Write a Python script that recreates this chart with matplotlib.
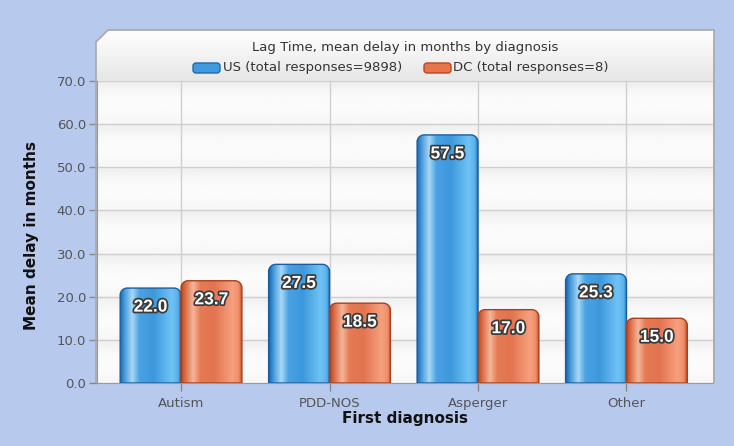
import numpy as np
import matplotlib
matplotlib.use("Agg")
import matplotlib.pyplot as plt
from matplotlib.path import Path
from matplotlib.patches import PathPatch, Polygon, FancyBboxPatch
import matplotlib.patheffects as pe
from matplotlib.colors import LinearSegmentedColormap

# ---------------- data ----------------
categories = ["Autism", "PDD-NOS", "Asperger", "Other"]
us_values = [22.0, 27.5, 57.5, 25.3]
dc_values = [23.7, 18.5, 17.0, 15.0]
series_names = ["US (total responses=9898)", "DC (total responses=8)"]
chart_title = "Lag Time, mean delay in months by diagnosis"
x_label = "First diagnosis"
y_label = "Mean delay in months"
y_ticks = [0, 10, 20, 30, 40, 50, 60, 70]

# ---------------- layout helpers ----------------
W, H = 734, 446
fig = plt.figure(figsize=(W / 100, H / 100), dpi=100)
fig.patch.set_facecolor("#b8c9ee")


def fx(px):
    return px / W


def fy(py):
    return 1 - py / H


L, R, T, B = 97, 713, 81, 383
PT, PL, PR = 30, 96, 714

# header area (title + legend)
hax = fig.add_axes([fx(PL), fy(T), fx(PR) - fx(PL), fy(PT) - fy(T)], zorder=-1)
hw, hh = PR - PL, T - PT
hax.set_xlim(0, hw)
hax.set_ylim(hh, 0)
hax.axis("off")
grad = np.linspace(1.0, 0.90, 64)[:, None]
hdr_cmap = LinearSegmentedColormap.from_list("hdr", ["#e6e6e6", "#ffffff"])
clip_poly = Polygon([(0, hh), (0, 12), (12, 0), (hw, 0), (hw, hh)], closed=True,
                    transform=hax.transData, facecolor="none", edgecolor="none")
hax.add_patch(clip_poly)
im = hax.imshow(grad, extent=(0, hw, hh, 0), aspect="auto", cmap=hdr_cmap,
                vmin=0.9, vmax=1.0)
im.set_clip_path(clip_poly)

hax.text(309, 17, chart_title, ha="center", va="center", fontsize=9.5,
         color="#333333", family="DejaVu Sans")

sw_cols = [("#3f9be0", "#1f69b0"), ("#e8744c", "#b8481f")]
sw_x = [97, 328]
txt_x = [127, 357]
for i, name in enumerate(series_names):
    fc, ec = sw_cols[i]
    sw = FancyBboxPatch((sw_x[i], 33), 27, 10,
                        boxstyle="round,pad=0,rounding_size=3",
                        facecolor=fc, edgecolor=ec, linewidth=1)
    hax.add_patch(sw)
    hax.text(txt_x[i], 37.5, name, ha="left", va="center", fontsize=9.5,
             color="#333333", family="DejaVu Sans")

# main plot area
ax = fig.add_axes([fx(L), fy(B), fx(R) - fx(L), fy(T) - fy(B)])
x = np.arange(len(categories))
ax.set_xlim(-0.566, 3.583)
ax.set_ylim(0, 70)

# band background
rows = np.linspace(0, 70, 700)
phase = (rows % 10) / 10.0
band = 0.985 - 0.045 * np.exp(-((1 - phase) / 0.25) ** 2) - 0.02 * np.exp(-(phase / 0.2) ** 2)
bg_cmap = LinearSegmentedColormap.from_list("bg", ["#000000", "#ffffff"])
ax.imshow(band[:, None], extent=(-0.566, 3.583, 0, 70), origin="lower",
          aspect="auto", cmap=bg_cmap, vmin=0, vmax=1, zorder=0)

ax.set_xticks(x)
ax.set_xticklabels(categories)
ax.set_yticks(y_ticks)
ax.set_yticklabels([f"{v:.1f}" for v in y_ticks])
ax.tick_params(axis="both", colors="#888888", labelcolor="#555555",
               labelsize=9.5, length=6, width=1)
ax.tick_params(axis="x", pad=4)
ax.tick_params(axis="y", pad=2)
ax.grid(True, color="#cfcfcf", linewidth=1, zorder=1)
ax.set_axisbelow(True)
for s in ["top", "right"]:
    ax.spines[s].set_visible(False)
for s in ["left", "bottom"]:
    ax.spines[s].set_color("#9a9a9a")
    ax.spines[s].set_zorder(5)

bw = 0.41
blue_cmap = LinearSegmentedColormap.from_list(
    "b", [(0.0, "#1c66ad"), (0.06, "#3d93d6"), (0.2, "#a8d8f5"), (0.32, "#4aa2e3"),
          (0.55, "#3c98dc"), (0.85, "#6fc3f5"), (0.95, "#5ab2ec"), (1.0, "#2372bb")])
orange_cmap = LinearSegmentedColormap.from_list(
    "o", [(0.0, "#b8461f"), (0.06, "#d8673f"), (0.2, "#f5b69b"), (0.32, "#e57a53"),
          (0.55, "#e27450"), (0.85, "#f7a07e"), (0.95, "#ee8d68"), (1.0, "#c5542d")])

fig.canvas.draw()
axw = ax.bbox.width
axh = ax.bbox.height
r_px = 7
rx = r_px * (3.583 + 0.566) / axw
ry = r_px * 70 / axh


def rounded_path(x0, w, h):
    k = 0.5523
    verts = [(x0, 0), (x0, h - ry), (x0, h - ry + k * ry), (x0 + rx - k * rx, h),
             (x0 + rx, h), (x0 + w - rx, h), (x0 + w - rx + k * rx, h),
             (x0 + w, h - ry + k * ry), (x0 + w, h - ry), (x0 + w, 0), (x0, 0)]
    codes = [Path.MOVETO, Path.LINETO, Path.CURVE4, Path.CURVE4, Path.CURVE4,
             Path.LINETO, Path.CURVE4, Path.CURVE4, Path.CURVE4, Path.LINETO,
             Path.CLOSEPOLY]
    return Path(verts, codes)


gvals = np.linspace(0, 1, 256)[None, :]
series = [(us_values, -bw / 2, blue_cmap, "#1a5e9f"),
          (dc_values, bw / 2, orange_cmap, "#a9401c")]
for vals, off, cmap, ec in series:
    rects = ax.bar(x + off, vals, bw, color="none", edgecolor="none", zorder=2)
    for rect, v in zip(rects, vals):
        x0, w, h = rect.get_x(), rect.get_width(), rect.get_height()
        patch = PathPatch(rounded_path(x0, w, h), facecolor="none",
                          edgecolor=ec, linewidth=1.0, zorder=4)
        ax.add_patch(patch)
        gim = ax.imshow(gvals, extent=(x0, x0 + w, 0, h), aspect="auto",
                        cmap=cmap, vmin=0, vmax=1, zorder=3)
        gim.set_clip_path(patch)
        ax.annotate(f"{v:.1f}", xy=(x0 + w / 2, h), xytext=(0, -13.7),
                    textcoords="offset points", ha="center", va="center",
                    fontsize=12.5, fontweight="bold", color="white",
                    family="Liberation Sans", zorder=6,
                    path_effects=[pe.withStroke(linewidth=2.5, foreground="#3a3a3a")])

ax.set_xlim(-0.566, 3.583)
ax.set_ylim(0, 70)

# panel outline
outline = Polygon([(fx(PL), fy(B)), (fx(PL), fy(42)), (fx(108), fy(PT)),
                   (fx(PR), fy(PT)), (fx(PR), fy(B))], closed=False,
                  transform=fig.transFigure, facecolor="none",
                  edgecolor="#a8a8a8", linewidth=1.2, zorder=2)
fig.patches.append(outline)

fig.text(fx(405), fy(418), x_label, ha="center", va="center", fontsize=11,
         fontweight="bold", color="#111111")
fig.text(fx(32), fy(235), y_label, ha="center", va="center", fontsize=11,
         fontweight="bold", color="#111111", rotation=90)

fig.savefig("out.png", dpi=100, facecolor=fig.get_facecolor())
